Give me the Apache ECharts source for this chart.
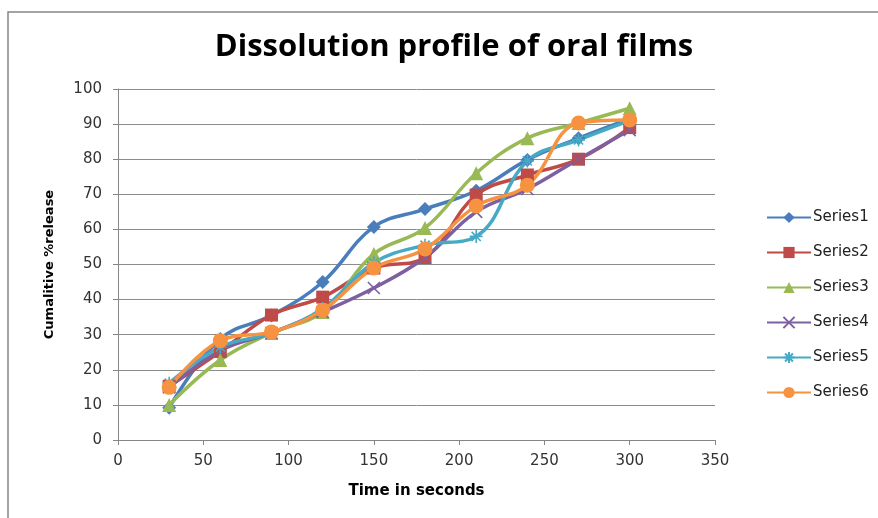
<!DOCTYPE html>
<html>
<head>
<meta charset="utf-8">
<script src="https://cdn.jsdelivr.net/npm/echarts@6/dist/echarts.min.js"></script>
<style>html,body{margin:0;padding:0;background:#fff;}#c{width:878px;height:518px;}</style>
</head>
<body>
<div id="c"></div>
<script>
var times = [30, 60, 90, 120, 150, 180, 210, 240, 270, 300];
var series1 = [9.2, 28.8, 35.5, 45, 60.7, 65.8, 71, 79.8, 86, 91.5];
var series2 = [15.3, 25.2, 35.6, 40.7, 49, 52, 69.8, 75.5, 80, 89];
var series3 = [10, 22.8, 30.5, 36.5, 53, 60.4, 76, 86, 90.3, 94.5];
var series4 = [15, 25.5, 30.5, 36.5, 43.3, 52, 65, 71.5, 80, 88.3];
var series5 = [16.2, 26.5, 30.5, 37.5, 50.5, 55.5, 58, 79.5, 85.5, 91];
var series6 = [15, 28.3, 30.8, 37, 49, 54.4, 66.7, 72.6, 90.3, 91.2];
var seriesNames = ['Series1', 'Series2', 'Series3', 'Series4', 'Series5', 'Series6'];
var xTicks = [0, 50, 100, 150, 200, 250, 300, 350];
var yTicks = [0, 10, 20, 30, 40, 50, 60, 70, 80, 90, 100];

var TITLE_FONT = '"Open Sans", Lato, sans-serif';
var FONT = '"DejaVu Sans", sans-serif';
var colors = ['#4A7EBB', '#BE4B48', '#98B954', '#7D60A0', '#46AAC5', '#F69240'];
var symbols = ['diamond', 'rect', 'triangle',
  'path://M0,0L10,10M10,0L0,10',
  'path://M5,0L5,10M0,5L10,5M1.5,1.5L8.5,8.5M8.5,1.5L1.5,8.5',
  'circle'];
var sizes = [14, 13, 14, 12, 13, 15];
var allData = [series1, series2, series3, series4, series5, series6];

function pairs(arr) { return times.map(function (t, i) { return [t, arr[i]]; }); }

var series = allData.map(function (d, i) {
  var strokeOnly = (i === 3 || i === 4);
  return {
    name: seriesNames[i],
    type: 'line',
    data: pairs(d),
    smooth: 0.4,
    symbol: symbols[i],
    symbolSize: sizes[i],
    showAllSymbol: true,
    lineStyle: { color: colors[i], width: 3.5 },
    itemStyle: { color: colors[i], borderColor: colors[i], borderWidth: strokeOnly ? 1.6 : 0 },
    emphasis: { disabled: true },
    animation: false
  };
});

var chart = echarts.init(document.getElementById('c'), null, { renderer: 'canvas' });
chart.setOption({
  animation: false,
  color: colors,
  title: {
    text: 'Dissolution profile of oral films',
    left: 449, textAlign: 'center', top: 27,
    textStyle: { fontFamily: TITLE_FONT, fontWeight: 'bold', fontSize: 31, color: '#000' }
  },
  graphic: [{
    type: 'rect', silent: true,
    shape: { x: 8, y: 12, width: 900, height: 600 },
    style: { fill: 'none', stroke: '#868686', lineWidth: 1.5 }
  }],
  legend: {
    orient: 'vertical', left: 761, top: 205,
    itemWidth: 44, itemHeight: 14, itemGap: 20,
    data: seriesNames,
    textStyle: { fontFamily: FONT, fontSize: 15, color: '#222', padding: [0, 0, 0, -3] }
  },
  grid: { left: 118, right: 163, top: 89, bottom: 78, containLabel: false },
  xAxis: {
    type: 'value', min: 0, max: 350, interval: 50,
    name: 'Time in seconds', nameLocation: 'middle', nameGap: 44,
    nameTextStyle: { fontFamily: FONT, fontWeight: 'bold', fontSize: 15, color: '#000' },
    axisLine: { show: true, onZero: false, lineStyle: { color: '#868686', width: 1 } },
    axisTick: { show: true, length: 5, lineStyle: { color: '#868686' } },
    axisLabel: { fontFamily: FONT, fontSize: 15, color: '#333', margin: 14 },
    splitLine: { show: false }
  },
  yAxis: {
    type: 'value', min: 0, max: 100, interval: 10,
    name: 'Cumalitive %release', nameLocation: 'middle', nameGap: 62, nameRotate: 90,
    nameTextStyle: { fontFamily: FONT, fontWeight: 'bold', fontSize: 13, color: '#000' },
    axisLine: { show: true, lineStyle: { color: '#868686', width: 1 } },
    axisTick: { show: true, length: 5, lineStyle: { color: '#868686' } },
    axisLabel: { fontFamily: FONT, fontSize: 15, color: '#333', margin: 16 },
    splitLine: { show: true, lineStyle: { color: '#8C8C8C', width: 1 } }
  },
  series: series
});
</script>
</body>
</html>
